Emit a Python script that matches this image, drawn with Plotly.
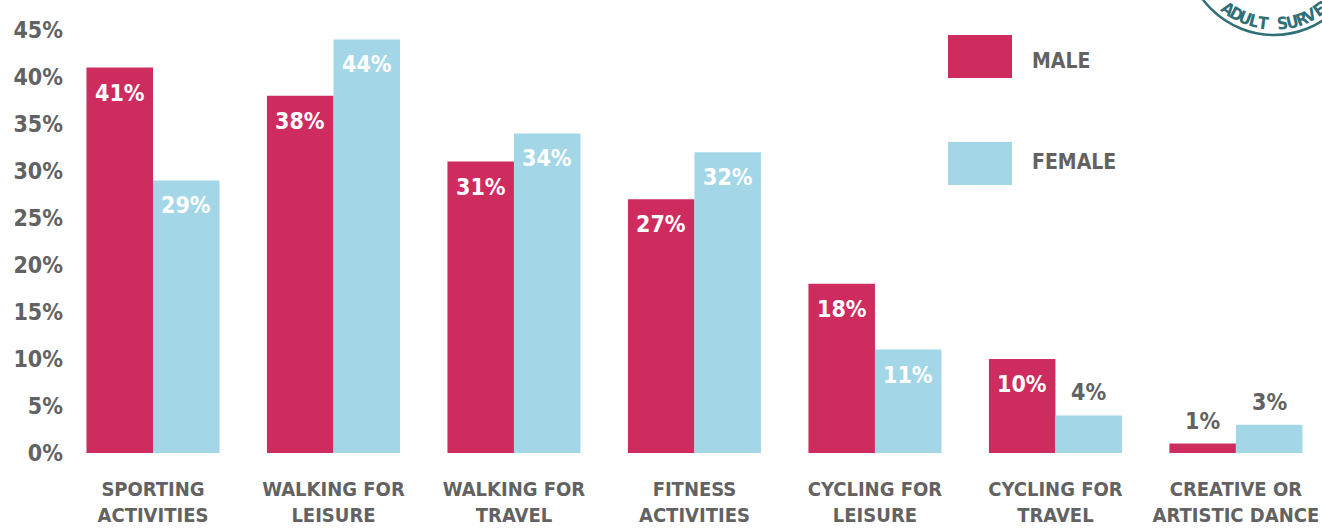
import math
import plotly.graph_objects as go

categories = ["SPORTING<br>ACTIVITIES", "WALKING FOR<br>LEISURE", "WALKING FOR<br>TRAVEL",
              "FITNESS<br>ACTIVITIES", "CYCLING FOR<br>LEISURE", "CYCLING FOR<br>TRAVEL",
              "CREATIVE OR<br>ARTISTIC DANCE"]
male = [41, 38, 31, 27, 18, 10, 1]
female = [29, 44, 34, 32, 11, 4, 3]
y_ticks = [0, 5, 10, 15, 20, 25, 30, 35, 40, 45]
y_ticktext = [f"{v}%" for v in y_ticks]

MALE_C = "#CE2B5E"
FEMALE_C = "#A3D7E8"
GREY = "#626262"
TEAL = "#2E6F78"
FONT = "DejaVu Sans Condensed, Liberation Sans Narrow, Arial Narrow, sans-serif"

W, H = 1322, 528
ML, MR, MT, MB = 63, 0, 30, 75
PW, PH = W - ML - MR, H - MT - MB


def px(x):
    return (x - ML) / PW


def py(y):
    return (H - MB - y) / PH


xs = list(range(len(categories)))
fig = go.Figure()
fig.add_trace(go.Bar(x=xs, y=male, name="MALE", marker=dict(color=MALE_C, line=dict(width=0))))
fig.add_trace(go.Bar(x=xs, y=female, name="FEMALE", marker=dict(color=FEMALE_C, line=dict(width=0))))

off = 0.184
ann = []
for series, sign in ((male, -1), (female, 1)):
    for i, v in enumerate(series):
        inside = v >= 10
        ann.append(dict(x=i + sign * off, y=v, xref="x", yref="y", text=f"<b>{v}%</b>",
                        showarrow=False, yanchor="middle", xanchor="center",
                        yshift=-25 if inside else 23,
                        font=dict(family=FONT, size=23, color="white" if inside else GREY)))

# legend (drawn)
shapes = [
    dict(type="rect", xref="paper", yref="paper", x0=px(948), x1=px(1012), y0=py(78), y1=py(35),
         fillcolor=MALE_C, line=dict(width=0)),
    dict(type="rect", xref="paper", yref="paper", x0=px(948), x1=px(1012), y0=py(185), y1=py(142),
         fillcolor=FEMALE_C, line=dict(width=0)),
]
ann.append(dict(x=px(1030), y=py(61), xref="paper", yref="paper", text="<b>MALE</b>", showarrow=False,
                xanchor="left", yanchor="middle", font=dict(family=FONT, size=21, color=GREY)))
ann.append(dict(x=px(1030), y=py(162), xref="paper", yref="paper", text="<b>FEMALE</b>", showarrow=False,
                xanchor="left", yanchor="middle", font=dict(family=FONT, size=21, color=GREY)))

# partial stamp logo (top right)
cx, cy = 1274, -54
shapes.append(dict(type="circle", xref="paper", yref="paper",
                   x0=px(cx - 89), x1=px(cx + 89), y0=py(cy + 89), y1=py(cy - 89),
                   line=dict(color=TEAL, width=2.5)))
letters = "ADULT SURVEY"
a0, step = 126, -7.1
for k, ch in enumerate(letters):
    if ch == " ":
        continue
    th = a0 + step * k
    lx = cx + 78 * math.cos(math.radians(th))
    ly = cy + 78 * math.sin(math.radians(th))
    ann.append(dict(x=px(lx), y=py(ly), xref="paper", yref="paper", text=f"<b>{ch}</b>",
                    showarrow=False, textangle=th - 90, xanchor="center", yanchor="middle",
                    font=dict(family=FONT, size=17, color=TEAL)))

fig.update_layout(
    width=W, height=H,
    margin=dict(l=ML, r=MR, t=MT, b=MB, autoexpand=False),
    paper_bgcolor="white", plot_bgcolor="white",
    barmode="group", bargap=0.263, bargroupgap=0,
    showlegend=False, hovermode=False,
    shapes=shapes, annotations=ann,
    xaxis=dict(tickmode="array", tickvals=xs, ticktext=[f"<b>{c}</b>" for c in categories],
               range=[-0.4986, 6.477], showgrid=False, zeroline=False, showline=False, ticks="",
               automargin=False,
               tickfont=dict(family=FONT, size=20, color=GREY), ticklabelstandoff=22),
    yaxis=dict(tickmode="array", tickvals=y_ticks, ticktext=[f"<b>{t}</b>" for t in y_ticktext],
               range=[0, 45], showgrid=False, zeroline=False, showline=False, ticks="",
               automargin=False,
               tickfont=dict(family=FONT, size=23, color=GREY), ticklabelstandoff=-1),
)

fig.write_html("out.html", config={"displayModeBar": False},
               post_script="document.body.style.margin='0';document.body.style.overflow='hidden';")
